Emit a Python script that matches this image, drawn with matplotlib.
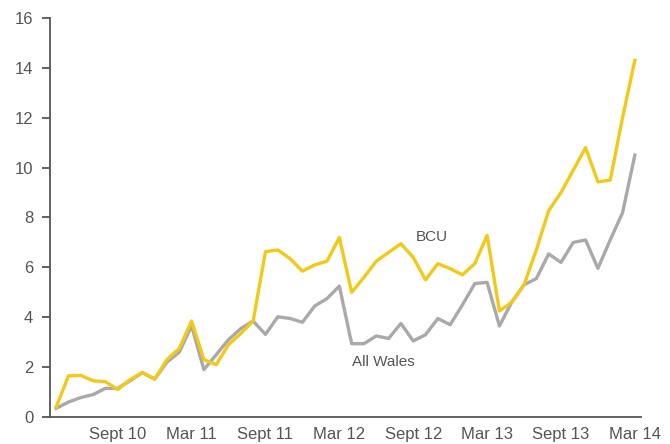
import numpy as np
import matplotlib.pyplot as plt

plt.rcParams['font.family'] = ['Liberation Sans', 'DejaVu Sans']

# monthly values, Apr 10 .. Mar 14
bcu = [0.4, 1.65, 1.67, 1.45, 1.42, 1.1, 1.5, 1.78, 1.52, 2.3, 2.75, 3.85,
       2.3, 2.1, 2.9, 3.35, 3.85, 6.63, 6.7, 6.35, 5.85, 6.1, 6.25, 7.2,
       5.0, 5.6, 6.25, 6.6, 6.95, 6.4, 5.5, 6.15, 5.95, 5.7, 6.15, 7.28,
       4.25, 4.6, 5.3, 6.7, 8.27, 9.0, 9.9, 10.8, 9.43, 9.5, 12.0, 14.3]
all_wales = [0.35, 0.6, 0.78, 0.9, 1.15, 1.15, 1.45, 1.78, 1.52, 2.2, 2.6, 3.65,
             1.9, 2.5, 3.1, 3.55, 3.85, 3.31, 4.02, 3.95, 3.8, 4.45, 4.75, 5.25,
             2.94, 2.94, 3.25, 3.15, 3.75, 3.05, 3.3, 3.95, 3.7, 4.5, 5.35, 5.4,
             3.65, 4.6, 5.3, 5.55, 6.54, 6.2, 7.0, 7.1, 5.96, 7.1, 8.19, 10.5]
tick_pos = [5, 11, 17, 23, 29, 35, 41, 47]
tick_labels = ['Sept 10', 'Mar 11', 'Sept 11', 'Mar 12', 'Sept 12',
               'Mar 13', 'Sept 13', 'Mar 14']

grey_txt = '#555555'

fig = plt.figure(figsize=(6.7, 4.44), dpi=100)
ax = fig.add_axes([50/670, 1-417/444, 591/670, 399/444])

x = np.arange(len(bcu))
ax.plot(x, all_wales, color='#a9a9ab', lw=2.4, zorder=2)
ax.plot(x, bcu, color='#f3c918', lw=2.4, zorder=3)

ax.set_xlim(-0.5, 47.5)
ax.set_ylim(0, 16)
ax.set_yticks(range(0, 17, 2))
ax.set_xticks(tick_pos)
ax.set_xticklabels(tick_labels)

for s in ['top', 'right']:
    ax.spines[s].set_visible(False)
for s in ['left', 'bottom']:
    ax.spines[s].set_color(grey_txt)
    ax.spines[s].set_linewidth(1.3)

ax.tick_params(axis='y', length=6, width=1.3, color=grey_txt,
               labelcolor=grey_txt, labelsize=12, pad=6)
ax.tick_params(axis='x', length=0, labelcolor=grey_txt, labelsize=12, pad=7)

ax.text(30.5, 7.2, 'BCU', color=grey_txt, fontsize=11, ha='center', va='center')
ax.text(26.6, 2.22, 'All Wales', color=grey_txt, fontsize=11, ha='center', va='center')

fig.savefig('out.png', dpi=100)
